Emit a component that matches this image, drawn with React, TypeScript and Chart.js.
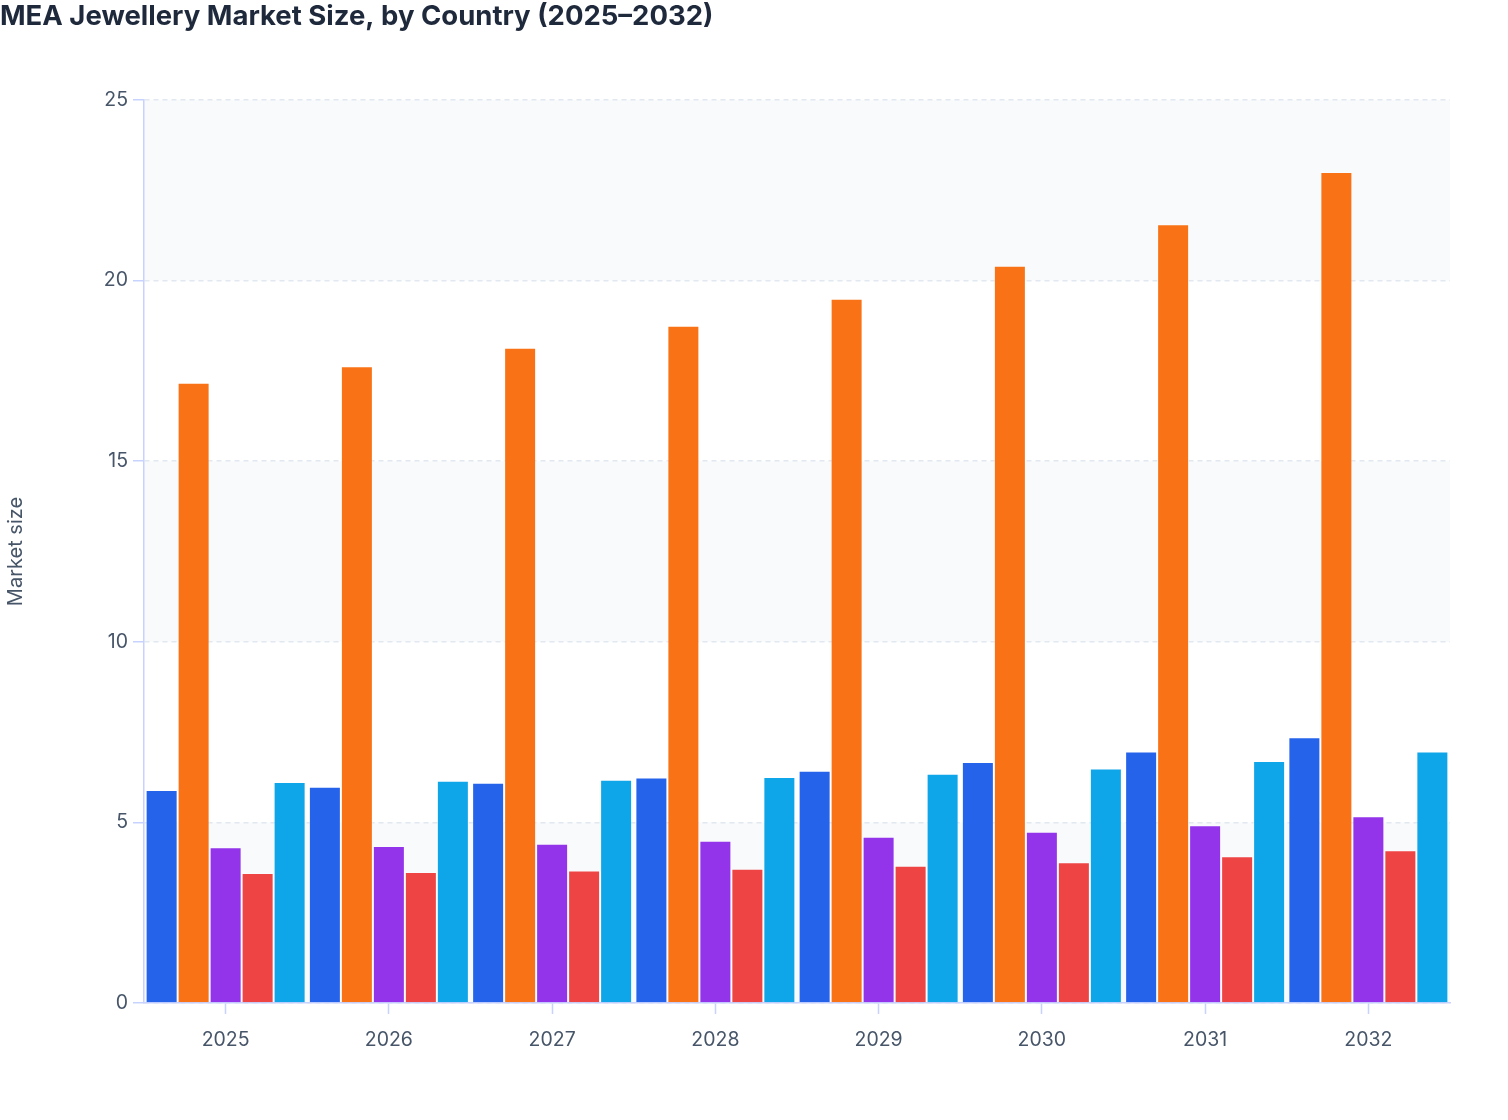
import { useEffect, useRef } from "react";
import { Chart, registerables } from "chart.js";

Chart.register(...registerables);

const years = ["2025", "2026", "2027", "2028", "2029", "2030", "2031", "2032"];

// one array per country series (market size)
const seriesA = [5.9, 5.99, 6.1, 6.24, 6.43, 6.67, 6.96, 7.36];
const seriesB = [17.17, 17.63, 18.14, 18.75, 19.5, 20.41, 21.56, 23.01];
const seriesC = [4.31, 4.35, 4.41, 4.49, 4.6, 4.74, 4.92, 5.17];
const seriesD = [3.6, 3.63, 3.67, 3.72, 3.8, 3.9, 4.06, 4.23];
const seriesE = [6.12, 6.15, 6.18, 6.26, 6.35, 6.49, 6.7, 6.96];

const seriesNames = ["Country 1", "Country 2", "Country 3", "Country 4", "Country 5"];
const colors = ["#2563eb", "#f97316", "#9333ea", "#ef4444", "#0ea5e9"];

const yTicks = [0, 5, 10, 15, 20, 25];

const bandPlugin = {
    id: "bands",
    beforeDraw(chart: any) {
        const { ctx, chartArea, scales } = chart;
        const y = scales.y;
        ctx.save();
        ctx.fillStyle = "#f8fafc";
        for (let i = 0; i < yTicks.length - 1; i += 2) {
            const top = y.getPixelForValue(yTicks[i + 1]);
            const bottom = y.getPixelForValue(yTicks[i]);
            ctx.fillRect(chartArea.left, top, chartArea.right - chartArea.left, bottom - top);
        }
        ctx.restore();
    },
};

export default function App() {
    const chartRef = useRef<HTMLCanvasElement | null>(null);
    const chartInstanceRef = useRef<Chart | null>(null);

    useEffect(() => {
        document.body.style.margin = "0";
        if (chartInstanceRef.current) {
            chartInstanceRef.current.destroy();
        }
        if (!chartRef.current) return;

        const all = [seriesA, seriesB, seriesC, seriesD, seriesE];

        chartInstanceRef.current = new Chart(chartRef.current, {
            type: "bar",
            data: {
                labels: years,
                datasets: all.map((d, i) => ({
                    label: seriesNames[i],
                    data: d,
                    backgroundColor: colors[i],
                    borderColor: "rgba(255,255,255,0.3)",
                    borderWidth: 1,
                    categoryPercentage: 0.98,
                    barPercentage: 1,
                })),
            },
            options: {
                animation: false,
                responsive: true,
                maintainAspectRatio: false,
                layout: { padding: { left: 0, right: 58, top: 0, bottom: 0 } },
                plugins: {
                    legend: { display: false },
                    title: {
                        display: true,
                        text: "MEA Jewellery Market Size, by Country (2025–2032)",
                        align: "start",
                        color: "#1e293b",
                        font: { family: "Inter", size: 27.5, weight: "bold" },
                        padding: { top: 0, bottom: 67 },
                    },
                    tooltip: { enabled: true },
                },
                scales: {
                    x: {
                        grid: {
                            offset: false,
                            color: "transparent",
                            tickColor: "#c7d2fe",
                            tickLength: 11,
                            tickWidth: 1.5,
                        },
                        border: { color: "#c7d2fe", width: 1.5 },
                        ticks: {
                            color: "#475569",
                            font: { family: "Inter", size: 19.5 },
                            padding: 14,
                        },
                        afterFit(scale: any) {
                            scale.height = 117;
                        },
                    },
                    y: {
                        min: 0,
                        max: 25,
                        ticks: {
                            stepSize: 5,
                            color: "#475569",
                            font: { family: "Inter", size: 19.5 },
                            padding: 5,
                        },
                        grid: {
                            color: "#e2e8f0",
                            lineWidth: 1.5,
                            tickColor: "#c7d2fe",
                            tickLength: 11,
                            tickWidth: 1.5,
                        },
                        border: { color: "#c7d2fe", width: 1.5, dash: [5, 4] },
                        title: {
                            display: true,
                            text: "Market size",
                            color: "#475569",
                            font: { family: "Inter", size: 20 },
                            padding: { top: 4, bottom: 0 },
                        },
                        afterFit(scale: any) {
                            scale.width = 144;
                        },
                    },
                },
            },
            plugins: [bandPlugin],
        });

        return () => {
            if (chartInstanceRef.current) {
                chartInstanceRef.current.destroy();
                chartInstanceRef.current = null;
            }
        };
    }, []);

    return (
        <div style={{ width: 1508, height: 1120, position: "relative" }}>
            <canvas ref={chartRef} />
        </div>
    );
}
